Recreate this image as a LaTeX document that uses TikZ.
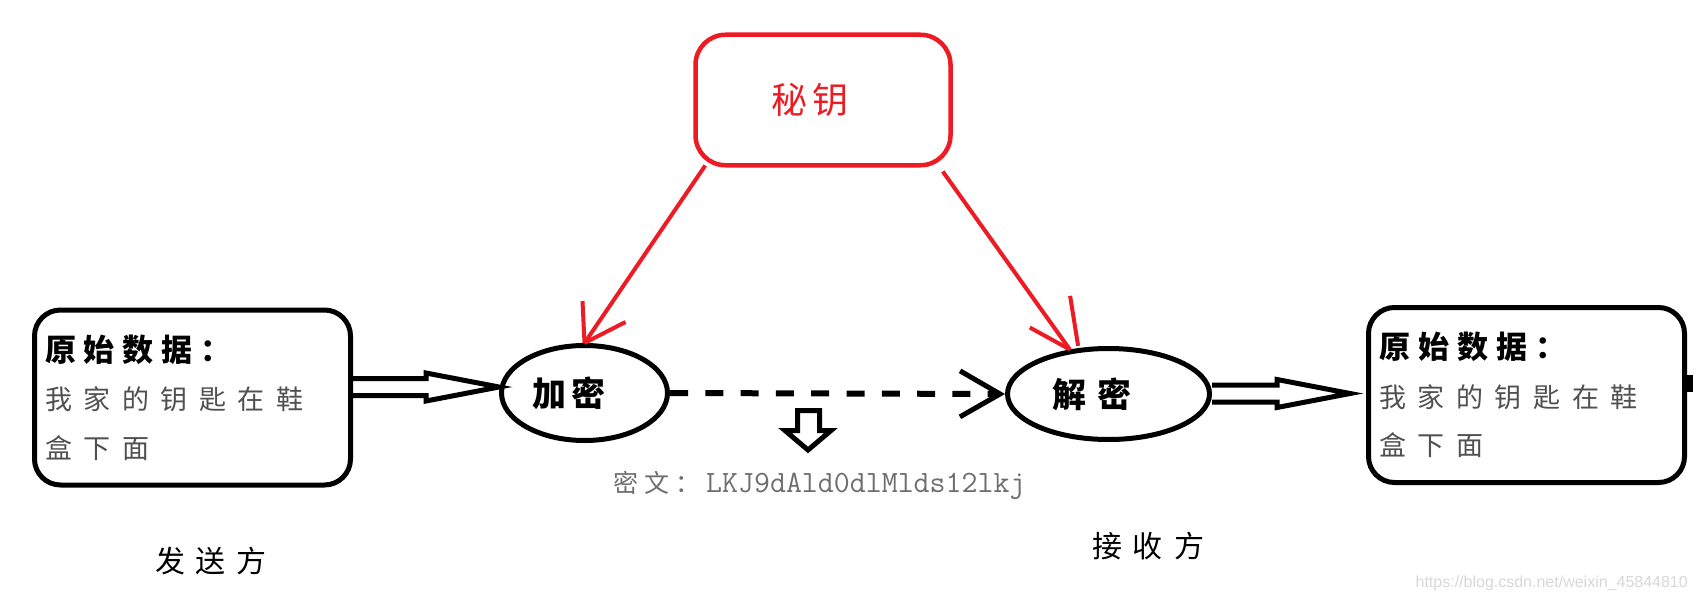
\documentclass[tikz,border=0pt]{standalone}
\usepackage{fontspec}
\setmainfont{Noto Sans CJK SC}
\newfontfamily\wsans{Liberation Sans}
\usetikzlibrary{shapes.geometric,arrows.meta,calc}
\definecolor{keyred}{HTML}{ED1C24}
\definecolor{txtgray}{HTML}{505050}
\definecolor{ciphergray}{HTML}{6E6E6E}
\definecolor{wmgray}{HTML}{D8D8D8}
\makeatletter
\def\spaced#1#2{\def\sp@sep{\kern#1\relax}\sp@first#2\relax}
\def\sp@first#1{#1\sp@next}
\def\sp@next#1{\ifx#1\relax\else\sp@sep#1\expandafter\sp@next\fi}
\makeatother
\tikzset{
  databox/.style={draw, line width=5pt, rounded corners=26pt, rectangle,
    minimum width=316pt, minimum height=175pt, inner xsep=10.5pt, inner ysep=0pt,
    text width=295pt, align=left, font=\fontsize{27}{48.5}\selectfont},
  keybox/.style={draw=keyred, text=keyred, line width=4.5pt, rounded corners=30pt,
    rectangle, minimum width=255pt, minimum height=130.5pt, inner sep=0pt,
    font=\fontsize{36}{40}\selectfont},
  oval/.style={draw, ellipse, line width=5pt, inner sep=0pt,
    font=\bfseries\fontsize{34}{40}\selectfont},
  lbl/.style={inner sep=0pt, font=\fontsize{30}{36}\selectfont},
  redline/.style={draw=keyred, line width=4pt},
  dblarrow/.style={draw, line width=5pt, line join=miter},
  dasharrow/.style={line width=6pt, dash pattern=on 18pt off 17.3pt,
    -{Straight Barb[length=40pt,width=46pt,line width=5pt]}},
  hollow/.style={draw, line width=5pt, line join=miter}
}
\newcommand\dblarrowdraw[2]{%
  \draw[dblarrow] let \p1=(#1), \p2=(#2) in
    (\x1,\y2+8.5pt) -- (\x2-73pt,\y2+8.5pt) -- (\x2-73pt,\y2+14pt) -- (\p2)
    -- (\x2-73pt,\y2-14pt) -- (\x2-73pt,\y2-8.5pt) -- (\x1,\y2-8.5pt);}
\begin{document}
\begin{tikzpicture}[x=1pt,y=-1pt]
\fill[white] (0,0) rectangle (1696,602);
\useasboundingbox (0,0) rectangle (1696,602);

% nodes
\node[keybox] (key) at (823,100) {\spaced{5pt}{秘钥}\kern26pt};
\node[databox] (src) at (192.5,397.5)
  {{\bfseries\fontsize{31}{48.5}\selectfont\spaced{8pt}{原始数据：}}\\
   {\color{txtgray}\spaced{11.6pt}{我家的钥匙在鞋}}\\
   {\color{txtgray}\spaced{11.6pt}{盒下面}}};
\node[databox] (dst) at (1526.5,395)
  {{\bfseries\fontsize{31}{48.5}\selectfont\spaced{8pt}{原始数据：}}\\
   {\color{txtgray}\spaced{11.6pt}{我家的钥匙在鞋}}\\
   {\color{txtgray}\spaced{11.6pt}{盒下面}}};
\node[oval, minimum width=166pt, minimum height=95pt] (enc) at (584.5,393)
  {\spaced{6pt}{加密}\kern31pt};
\node[oval, minimum width=202pt, minimum height=91pt] (dec) at (1108.5,394)
  {\spaced{11pt}{解密}\kern33pt};
\node[lbl] (snd) at (211,561) {\spaced{11pt}{发送方}};
\node[lbl] (rcv) at (1148,546) {\spaced{11pt}{接收方}};
\node[anchor=base west, inner sep=0pt, text=ciphergray] (cipher) at (613,492)
  {\fontsize{25}{30}\selectfont\spaced{6pt}{密文：}\kern6pt{\ttfamily\fontsize{31}{36}\selectfont LKJ9dAld0dlMlds12lkj}};
\node[anchor=east, inner sep=0pt, text=wmgray, font=\wsans\fontsize{16}{18}\selectfont]
  (wm) at (1688,583) {https://blog.csdn.net/weixin\_45844810};

% coordinates
\coordinate (ltip) at ($(enc.west)+(0,-6)$);
\coordinate (rtip) at (1350,393.5);

% double arrows
\dblarrowdraw{src.east}{ltip}
\dblarrowdraw{dec.east}{rtip}

% dashed arrow
\draw[dasharrow] (enc.east) -- (dec.west);

% hollow down arrow
\draw[hollow] (797.5,410.5) -- (819.5,410.5) -- (819.5,430.5) -- (831,430.5)
  -- (808,450) -- (785,430.5) -- (797.5,430.5) -- cycle;

% red arrows
\draw[redline] ($(key.south west)+(12,-2)$) -- (enc.north);
\draw[redline] (enc.north) -- ++(-2,-42);
\draw[redline] (enc.north) -- ++(41,-21);
\draw[redline] ($(key.south east)+(-10,4)$) -- (dec.131);
\draw[redline] (dec.131) -- ++(-40,-22);
\draw[redline] ($(dec.131)+(0.3,-53.6)$) -- ($(dec.131)+(8.3,-3.6)$);

% edge mark on right box
\fill (1685.5,375) rectangle (1693,392);
\end{tikzpicture}
\end{document}
